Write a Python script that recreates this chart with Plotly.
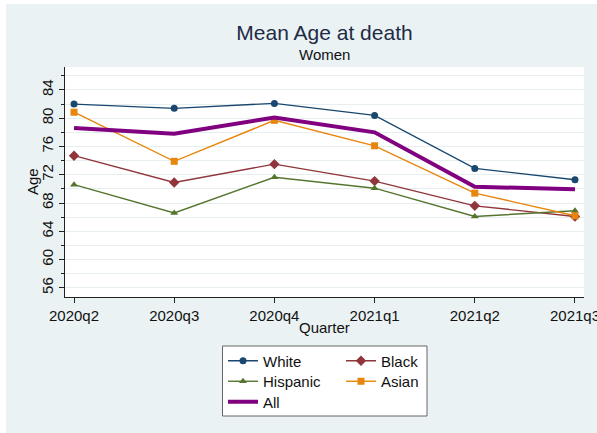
import plotly.graph_objects as go

# Quarterly mean age at death, women
quarters = ["2020q2", "2020q3", "2020q4", "2021q1", "2021q2", "2021q3"]
white = [82.0, 81.4, 82.1, 80.4, 72.9, 71.3]
black = [74.7, 70.9, 73.5, 71.1, 67.6, 66.1]
hispanic = [70.6, 66.6, 71.65, 70.1, 66.1, 66.9]
asian = [80.85, 73.9, 79.7, 76.1, 69.4, 66.2]
all_groups = [78.6, 77.8, 80.1, 78.0, 70.3, 69.95]
y_ticks = [56, 60, 64, 68, 72, 76, 80, 84]

W, H = 597, 433
ML, MR, MT, MB = 65, 13, 67, 136
PW, PH = W - ML - MR, H - MT - MB


def fx(p):
    return (p - ML) / PW


def fy(p):
    return (H - MB - p) / PH


FONT = "Liberation Sans, Arial, sans-serif"
idx = list(range(len(quarters)))

series = [
    ("White", white, "#1A476F", "circle", 7, "legend", 1.4),
    ("Black", black, "#90353B", "diamond", 8, "legend2", 1.4),
    ("Hispanic", hispanic, "#55752F", "triangle-up", 7, "legend3", 1.4),
    ("Asian", asian, "#E8850C", "square", 7, "legend4", 1.4),
]

fig = go.Figure()
for name, vals, color, sym, size, leg, lw in series:
    fig.add_trace(go.Scatter(
        x=idx, y=vals, name=name, mode="lines+markers",
        line=dict(color=color, width=lw),
        marker=dict(symbol=sym, size=size, color=color),
        legend=leg,
    ))
fig.add_trace(go.Scatter(
    x=idx, y=all_groups, name="All", mode="lines",
    line=dict(color="#800080", width=4), legend="legend5",
))

# legend rows: (legend id, left px, center y px)
leg_pos = {
    "legend": (223, 361),
    "legend2": (341, 361),
    "legend3": (223, 381.5),
    "legend4": (341, 381.5),
    "legend5": (223, 402),
}
leg_layout = {}
for key, (lx, ly) in leg_pos.items():
    leg_layout[key] = dict(
        x=fx(lx), y=fy(ly), xanchor="left", yanchor="middle",
        bgcolor="rgba(0,0,0,0)", borderwidth=0,
        font=dict(family=FONT, size=15, color="#111"),
    )

fig.update_layout(
    width=W, height=H,
    margin=dict(l=ML, r=MR, t=MT, b=MB, pad=0, autoexpand=False),
    paper_bgcolor="#EAF2F3",
    plot_bgcolor="white",
    font=dict(family=FONT, size=15, color="#111"),
    title=dict(
        text="Mean Age at death", x=0.5, xref="paper", xanchor="center",
        y=1 - 33 / H, yanchor="middle",
        font=dict(family=FONT, size=21, color="#1E2B47"),
    ),
    showlegend=True,
    **leg_layout,
)

fig.add_annotation(
    text="Women", xref="paper", yref="paper", x=0.5, y=fy(54),
    xanchor="center", yanchor="middle", showarrow=False,
    font=dict(family=FONT, size=15, color="#111"),
)
# axis titles
fig.add_annotation(
    text="Quarter", xref="paper", yref="paper", x=0.5, y=fy(327),
    xanchor="center", yanchor="middle", showarrow=False,
    font=dict(family=FONT, size=15, color="#111"),
)
fig.add_annotation(
    text="Age", xref="paper", yref="paper", x=fx(32), y=fy(182),
    xanchor="center", yanchor="middle", showarrow=False, textangle=-90,
    font=dict(family=FONT, size=15, color="#111"),
)

fig.update_xaxes(
    range=[-0.09, 5.09], tickmode="array", tickvals=idx, ticktext=quarters,
    ticklabeloverflow="allow", automargin=False,
    showline=True, linecolor="#222", linewidth=1.2,
    ticks="outside", ticklen=5, tickcolor="#222",
    showgrid=False, zeroline=False,
    tickfont=dict(family=FONT, size=15, color="#111"),
)
fig.update_yaxes(
    range=[54.7, 87.25], tickmode="array", tickvals=y_ticks,
    tickangle=-90, automargin=False,
    showline=True, linecolor="#222", linewidth=1.2,
    ticks="outside", ticklen=5, tickcolor="#222",
    showgrid=True, gridcolor="#E6EEF0", gridwidth=1,
    minor=dict(dtick=2, tick0=0, ticks="outside", ticklen=3, tickcolor="#222",
               showgrid=True, gridcolor="#E6EEF0", gridwidth=1),
    zeroline=False,
    tickfont=dict(family=FONT, size=15, color="#111"),
)

# white page edge around the graph region
fig.add_shape(type="rect", xref="paper", yref="paper",
              x0=fx(0), x1=fx(6), y0=fy(H), y1=fy(0),
              fillcolor="white", line=dict(width=0), layer="above")
fig.add_shape(type="rect", xref="paper", yref="paper",
              x0=fx(0), x1=fx(W), y0=fy(4), y1=fy(0),
              fillcolor="white", line=dict(width=0), layer="above")

# legend frame
fig.add_shape(type="rect", xref="paper", yref="paper",
              x0=fx(222.5), x1=fx(427), y0=fy(416), y1=fy(346),
              fillcolor="white", line=dict(color="#666", width=1), layer="above")

fig.write_html("out.html")
